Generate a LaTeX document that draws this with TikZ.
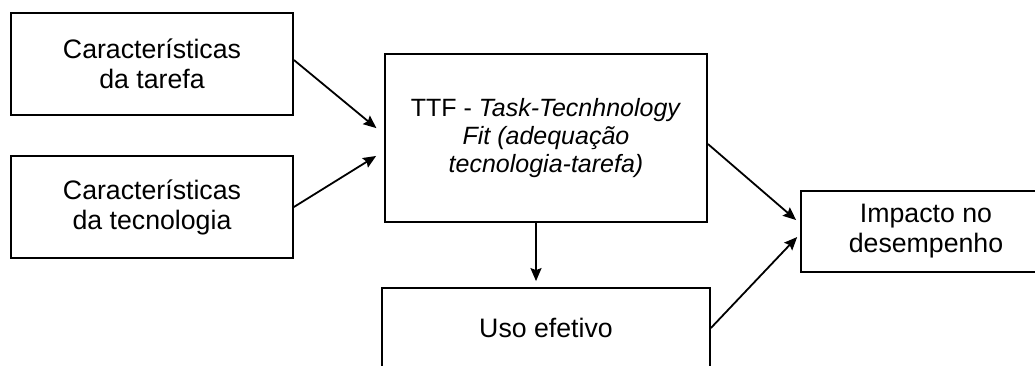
\documentclass[tikz,border=0pt]{standalone}
\usepackage{fontspec}
\setmainfont{Liberation Sans}
\usetikzlibrary{arrows.meta,calc}
\tikzset{
  box/.style={draw=black, line width=1.8pt, align=center, inner sep=0pt,
              font=\fontsize{26.7}{30}\selectfont},
  arr/.style={line width=1.8pt, -{Stealth[length=13pt,width=11pt,inset=2pt]}}
}
\begin{document}
\begin{tikzpicture}[x=1pt,y=-1pt]
  \clip (0,0) rectangle (1035,365);
  \fill[white] (0,0) rectangle (1035,365);

  % input characteristics
  \node[box, minimum width=282pt, minimum height=102pt] (A) at (152,64)
    {Características\\da tarefa};
  \node[box, minimum width=282pt, minimum height=102pt] (B) at (152,207)
    {Características\\da tecnologia};

  % central fit construct
  \node[box, minimum width=322pt, minimum height=168pt,
        font=\fontsize{25}{28}\selectfont] (T) at (546,138)
    {TTF - \textit{Task-Tecnhnology}\\\textit{Fit (adequação}\\\textit{tecnologia-tarefa)}};

  % outcomes
  \node[box, minimum width=328pt, minimum height=80pt] (U) at (546,328)
    {Uso efetivo};
  \node[box, minimum width=250pt, minimum height=81pt] (I) at (926,231.5)
    {Impacto no\\desempenho};

  % connectors
  \draw[arr, shorten >=10pt] ([yshift=4pt]A.east) -- ([yshift=3.5pt]T.west);
  \draw[arr, shorten >=9.4pt] (B.east) -- ([yshift=-13pt]T.west);
  \draw[arr, shorten >=6pt] ([xshift=-10pt]T.south) -- ([xshift=-10pt]U.north);
  \draw[arr, shorten >=5.3pt] ([yshift=-6pt]T.east) -- ([yshift=8pt]I.west);
  \draw[arr, shorten >=4.3pt] (U.east) -- ([yshift=-2.4pt]I.west);
\end{tikzpicture}
\end{document}
